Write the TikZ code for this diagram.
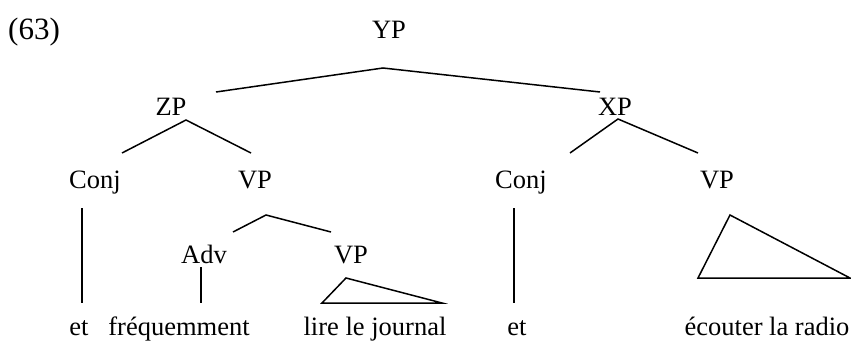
\documentclass[tikz,border=0pt]{standalone}
\usepackage{fontspec}
\setmainfont{Liberation Serif}
\begin{document}
\begin{tikzpicture}[x=1pt,y=-1pt,
  lab/.style={anchor=base,inner sep=0pt,font=\fontsize{26.5}{30}\selectfont},
  branch/.style={line width=1.5pt,line join=miter}]
\useasboundingbox (0,0) rectangle (851,340);
% labels
\node[lab,anchor=base west,font=\fontsize{31}{34}\selectfont] (ex) at (8,39) {(63)};
\node[lab] (yp) at (389,38) {YP};
\node[lab] (zp) at (171,115) {ZP};
\node[lab] (xp) at (615,115) {XP};
\node[lab] (conj1) at (95,188) {Conj};
\node[lab] (vp1) at (255,188) {VP};
\node[lab] (conj2) at (521,188) {Conj};
\node[lab] (vp3) at (717,188) {VP};
\node[lab] (adv) at (204,263) {Adv};
\node[lab] (vp2) at (351,263) {VP};
\node[lab] (et1) at (79,335) {et};
\node[lab] (freq) at (179,335) {fréquemment};
\node[lab] (lire) at (375,335) {lire le journal};
\node[lab] (et2) at (517,335) {et};
\node[lab] (ecouter) at (767,335) {écouter la radio};
% branch points
\coordinate (yp-b) at (383,68);
\coordinate (zp-t) at (216,92);
\coordinate (xp-t) at (600,92);
\coordinate (zp-b) at (186,120);
\coordinate (conj1-t) at (122,153);
\coordinate (vp1-t) at (251,153);
\coordinate (xp-b) at (618,119);
\coordinate (conj2-t) at (570,153);
\coordinate (vp3-t) at (698,153);
\coordinate (conj1-b) at (82,208);
\coordinate (et1-t) at (82,303);
\coordinate (vp1-b) at (266,215);
\coordinate (adv-t) at (233,232);
\coordinate (vp2-t) at (331,232);
\coordinate (adv-b) at (201,267);
\coordinate (freq-t) at (201,303);
\coordinate (vp2-b) at (346,278);
\coordinate (lire-l) at (322,303);
\coordinate (lire-r) at (442,303);
\coordinate (conj2-b) at (514,208);
\coordinate (et2-t) at (514,303);
\coordinate (vp3-b) at (730,215);
\coordinate (ec-l) at (698,278);
\coordinate (ec-r) at (850,278);
% branches
\draw[branch] (zp-t) -- (yp-b) -- (xp-t);
\draw[branch] (conj1-t) -- (zp-b) -- (vp1-t);
\draw[branch] (conj2-t) -- (xp-b) -- (vp3-t);
\draw[branch] (conj1-b) -- (et1-t);
\draw[branch] (adv-t) -- (vp1-b) -- (vp2-t);
\draw[branch] (adv-b) -- (freq-t);
\draw[branch] (vp2-b) -- (lire-l) -- (lire-r) -- cycle;
\draw[branch] (conj2-b) -- (et2-t);
\draw[branch] (vp3-b) -- (ec-l) -- (ec-r) -- cycle;
\end{tikzpicture}
\end{document}
